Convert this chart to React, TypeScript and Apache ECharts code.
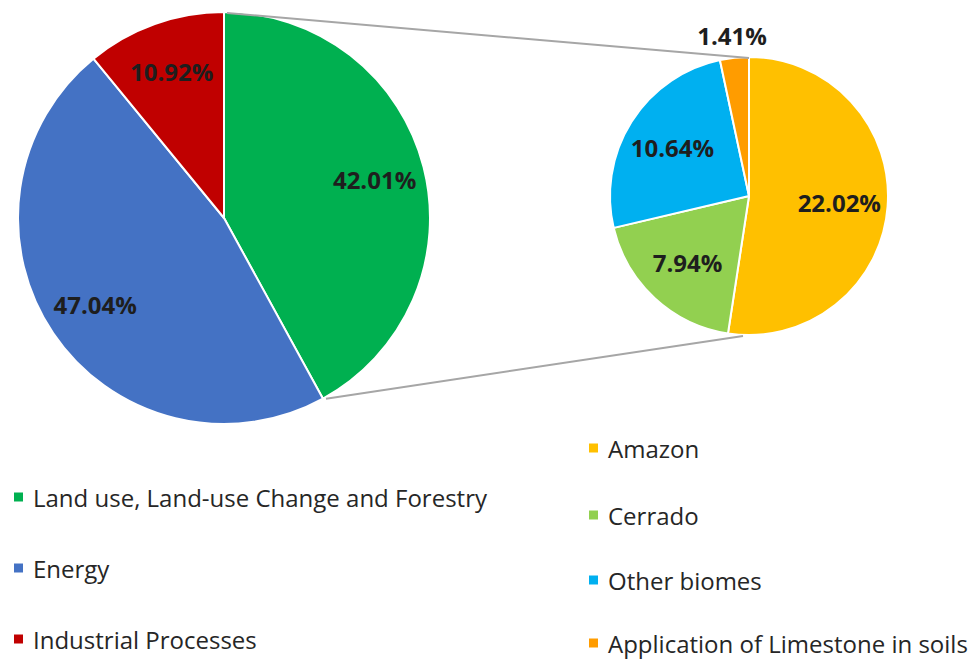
import React, { useEffect, useRef } from "react";
import * as echarts from "echarts";

const sectorNames = [
  "Land use, Land-use Change and Forestry",
  "Energy",
  "Industrial Processes",
];
const sectorValues = [42.01, 47.04, 10.92];
const sectorColors = ["#00B050", "#4472C4", "#C00000"];

const biomeNames = [
  "Amazon",
  "Cerrado",
  "Other biomes",
  "Application of Limestone in soils",
];
const biomeValues = [22.02, 7.94, 10.64, 1.41];
const biomeColors = ["#FFC000", "#92D050", "#00B0F0", "#FF9C00"];

// layout
const BIG = { cx: 224, cy: 218, r: 206 };
const SMALL = { cx: 749, cy: 196, r: 139 };
const FONT = "'Open Sans', 'Liberation Sans', sans-serif";
const LEFT_LEGEND_Y = [497, 568, 639];
const RIGHT_LEGEND_Y = [448, 515, 580, 643];

const fmt = (p: any) => Number(p.value).toFixed(2) + "%";

export default function App() {
  const ref = useRef<HTMLDivElement>(null);
  useEffect(() => {
    if (!ref.current) return;
    const chart = echarts.init(ref.current, undefined, { renderer: "svg" });

    const bigData = sectorNames.map((n, i) => ({
      name: n,
      value: sectorValues[i],
      itemStyle: { color: sectorColors[i] },
    }));
    const smallData = biomeNames.map((n, i) => ({
      name: n,
      value: biomeValues[i],
      itemStyle: { color: biomeColors[i] },
    }));
    const bigSum = sectorValues.reduce((a, b) => a + b, 0);
    const a = (sectorValues[0] / bigSum) * Math.PI * 2;

    const labelStyle = {
      fontFamily: FONT,
      fontSize: 24,
      fontWeight: "bold" as const,
      color: "#1e1e1e",
      formatter: fmt,
    };

    const overlay = (
      data: any[],
      center: number[],
      radius: any,
      showIdx: (i: number) => boolean
    ) => ({
      type: "pie",
      center,
      radius,
      silent: true,
      startAngle: 90,
      clockwise: true,
      emphasis: { disabled: true },
      itemStyle: { color: "transparent", borderWidth: 0 },
      labelLine: { show: false },
      data: data.map((d, i) => ({
        name: d.name,
        value: d.value,
        itemStyle: { color: "transparent" },
        label: { show: showIdx(i) },
      })),
      label: { position: "inside", ...labelStyle },
    });

    const legendText = {
      fontFamily: FONT,
      fontSize: 24,
      color: "#262626",
      padding: [0, 0, 0, 4],
    };
    const mkLegend = (name: string, left: number, cy: number) => ({
      orient: "vertical",
      left,
      top: cy - 12,
      padding: 0,
      itemWidth: 11,
      itemHeight: 11,
      icon: "rect",
      selectedMode: false,
      data: [name],
      textStyle: legendText,
    });

    chart.setOption({
      animation: false,
      backgroundColor: "#ffffff",
      legend: [
        ...sectorNames.map((n, i) => mkLegend(n, 12, LEFT_LEGEND_Y[i])),
        ...biomeNames.map((n, i) => mkLegend(n, 587, RIGHT_LEGEND_Y[i])),
      ],
      graphic: [
        {
          type: "line",
          z: 10,
          shape: {
            x1: BIG.cx + 3,
            y1: BIG.cy - BIG.r + 1,
            x2: SMALL.cx,
            y2: SMALL.cy - SMALL.r + 1,
          },
          style: { stroke: "#A6A6A6", lineWidth: 2 },
        },
        {
          type: "line",
          z: 10,
          shape: {
            x1: BIG.cx + BIG.r * Math.sin(a) + 3,
            y1: BIG.cy - BIG.r * Math.cos(a),
            x2: SMALL.cx - 6,
            y2: SMALL.cy + SMALL.r + 1,
          },
          style: { stroke: "#A6A6A6", lineWidth: 2 },
        },
      ],
      series: [
        {
          type: "pie",
          center: [BIG.cx, BIG.cy],
          radius: BIG.r,
          startAngle: 90,
          clockwise: true,
          silent: true,
          emphasis: { disabled: true },
          itemStyle: { borderColor: "#ffffff", borderWidth: 2 },
          label: { show: false },
          labelLine: { show: false },
          data: bigData,
        },
        {
          type: "pie",
          center: [SMALL.cx, SMALL.cy],
          radius: SMALL.r,
          startAngle: 90,
          clockwise: true,
          silent: true,
          emphasis: { disabled: true },
          itemStyle: { borderColor: "#ffffff", borderWidth: 2 },
          label: { show: false },
          labelLine: { show: false },
          data: smallData,
        },
        overlay(bigData, [BIG.cx, BIG.cy], [0, BIG.r * 1.48], () => true),
        overlay(
          smallData,
          [SMALL.cx, SMALL.cy],
          [0, SMALL.r * 1.26],
          (i) => i < 3
        ),
        overlay(
          smallData,
          [SMALL.cx, SMALL.cy],
          [SMALL.r * 1.07, SMALL.r * 1.21],
          (i) => i === 3
        ),
      ],
    });
    return () => chart.dispose();
  }, []);
  return (
    <div
      ref={ref}
      style={{ position: "fixed", left: 0, top: 0, width: 978, height: 659 }}
    />
  );
}
